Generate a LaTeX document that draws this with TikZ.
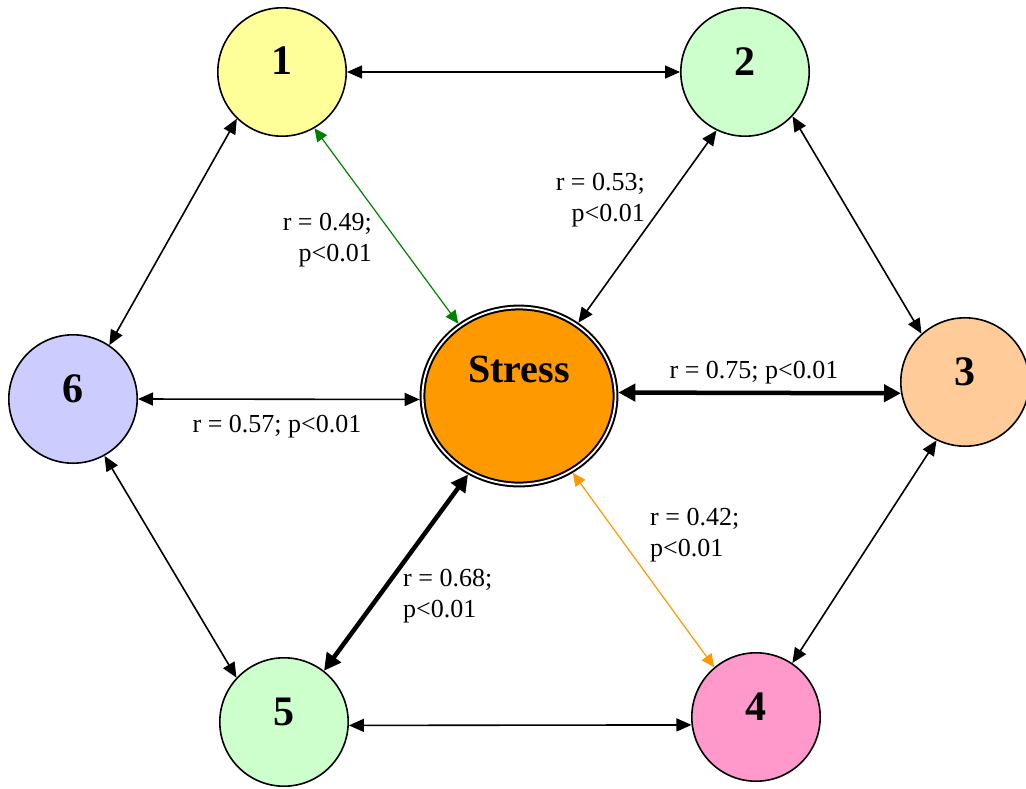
\documentclass[tikz,border=0pt]{standalone}
\usepackage{fontspec}
\setmainfont{Liberation Serif}
\usepackage{tikz}
\usetikzlibrary{arrows.meta,shapes.geometric}

\definecolor{yel}{HTML}{FFFF99}
\definecolor{mint}{HTML}{CCFFCC}
\definecolor{peach}{HTML}{FFCC99}
\definecolor{pinkish}{HTML}{FF99CC}
\definecolor{lav}{HTML}{CCCCFF}
\definecolor{stressor}{HTML}{FF9900}
\definecolor{dkgreen}{HTML}{008000}

\begin{document}
\begin{tikzpicture}[x=1pt, y=-1pt,
        state/.style={circle, draw, line width=1.6pt, minimum size=128.4pt, inner sep=0pt},
        num/.style={font=\fontsize{42}{48}\selectfont\bfseries},
        link/.style={<->, line width=1.6pt, >={Triangle[length=15pt,width=13pt]}},
        strong/.style={<->, line width=4.5pt, >={Triangle[length=17pt,width=17pt]}},
        weak/.style={<->, line width=1.2pt, >={Triangle[length=13pt,width=12pt]}},
        stat/.style={font=\fontsize{26}{31}\selectfont, inner sep=0pt}
    ]
        \useasboundingbox (0,0) rectangle (1026,788);
        % Outer ring
        \node[state, fill=yel, label={[num, yshift=11pt]center:1}] (n1) at (282,72) {};
        \node[state, fill=mint, label={[num, yshift=10pt]center:2}] (n2) at (745,72) {};
        \node[state, fill=peach, label={[num, yshift=10pt]center:3}] (n3) at (965,382) {};
        \node[state, fill=pinkish, label={[num, yshift=10pt]center:4}] (n4) at (756,717) {};
        \node[state, fill=mint, label={[num, yshift=10pt]center:5}] (n5) at (284,722) {};
        \node[state, fill=lav, label={[num, yshift=10pt]center:6}] (n6) at (73,399) {};
        % Centre
        \node[ellipse, draw, fill=stressor, line width=2pt, double=white, double distance=1.8pt,
              minimum width=193pt, minimum height=177pt, inner sep=0pt, outer sep=2.9pt,
              label={[font=\fontsize{40}{46}\selectfont\bfseries, yshift=27pt]center:Stress}] (stress) at (519,396) {};
        % Arrows round the ring
        \draw[link] (n1.east) -- (n2.west);
        \draw[link] (n2.317) -- (n3.132);
        \draw[link] (n3.244) -- (n4.56);
        \draw[link] (n4.187) -- (n5.-3);
        \draw[link] (n5.137) -- (n6.299);
        \draw[link] (n6.56) -- (n1.226);
        % Arrows to the centre
        \draw[weak, dkgreen] (n1.300) -- (stress.130);
        \draw[link] (n2.244) -- (stress.51);
        \draw[strong] (stress.2) -- (n3.190);
        \draw[weak, stressor] (stress.305) -- (n4.130);
        \draw[strong] (stress.237) -- (n5.52);
        \draw[link] (n6.0) -- (stress.182);
        % Labels
        \node[stat, align=right, anchor=north east] (r1) at (372,213) {r = 0.49;\\p<0.01};
        \node[stat, align=right, anchor=north east] (r2) at (645,173) {r = 0.53;\\p<0.01};
        \node[stat, anchor=base] (r3) at (754,378) {r = 0.75; p<0.01};
        \node[stat, align=left, anchor=north west] (r4) at (650,508) {r = 0.42;\\p<0.01};
        \node[stat, align=left, anchor=north west] (r5) at (403,569) {r = 0.68;\\p<0.01};
        \node[stat, anchor=base] (r6) at (277,432) {r = 0.57; p<0.01};
    \end{tikzpicture}
\end{document}
